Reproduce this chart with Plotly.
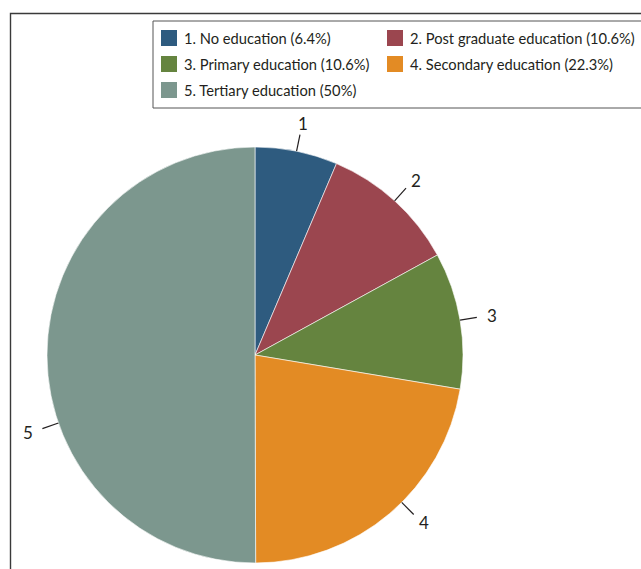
import math
import plotly.graph_objects as go

# ---- data ----
categories = ["1. No education", "2. Post graduate education", "3. Primary education",
              "4. Secondary education", "5. Tertiary education"]
short_labels = ["1", "2", "3", "4", "5"]
percent_text = ["6.4%", "10.6%", "10.6%", "22.3%", "50%"]
values = [6.4, 10.6, 10.6, 22.3, 50.0]
colors = ["#2E5B7F", "#9B464F", "#65843F", "#E38B24", "#7C978E"]

# ---- layout constants (pixels) ----
W, H = 641, 569
CX, CY, R = 255, 355, 208
label_angle_nudge = [0, 0, 0, -4.5, -19]   # best-fit label placement
FONT = "Lato"
TXT = "#231F20"


def px(x):
    return x / W


def py(y):
    return 1 - y / H


fig = go.Figure()
fig.add_trace(go.Pie(
    labels=categories,
    values=values,
    sort=False,
    direction="clockwise",
    rotation=0,
    textinfo="none",
    hoverinfo="label+percent",
    marker=dict(colors=colors, line=dict(color="white", width=0.6)),
    domain=dict(x=[px(CX - R), px(CX + R)], y=[py(CY + R), py(CY - R)]),
    showlegend=False,
))

shapes = []
annotations = []

# outer frame
shapes.append(dict(type="rect", xref="paper", yref="paper",
                   x0=px(10.5), x1=px(W + 20), y0=py(H + 20), y1=py(13.5),
                   line=dict(color="#3A3A3A", width=1.4), fillcolor="rgba(0,0,0,0)"))

# leader lines and slice numbers
total = sum(values)
cum = 0.0
for i, v in enumerate(values):
    mid = (cum + v / 2) / total * 360 + label_angle_nudge[i]
    cum += v
    t = math.radians(mid)
    sx, sy = math.sin(t), -math.cos(t)
    x0, y0 = CX + R * sx, CY + R * sy
    x1, y1 = CX + (R + 17) * sx, CY + (R + 17) * sy
    xt = CX + (R + 28) * sx + 4 * sx
    yt = CY + (R + 28) * sy
    shapes.append(dict(type="line", xref="paper", yref="paper",
                       x0=px(x0), y0=py(y0), x1=px(x1), y1=py(y1),
                       line=dict(color=TXT, width=1.2)))
    annotations.append(dict(xref="paper", yref="paper", x=px(xt), y=py(yt),
                            text=short_labels[i], showarrow=False,
                            xanchor="center", yanchor="middle",
                            font=dict(family=FONT, size=17, color=TXT)))

# legend (manual, 2 columns)
shapes.append(dict(type="rect", xref="paper", yref="paper",
                   x0=px(153), x1=px(W + 30), y0=py(108), y1=py(21),
                   line=dict(color="#555555", width=1), fillcolor="white", layer="below"))
for i, (cat, pct) in enumerate(zip(categories, percent_text)):
    col, row = i % 2, i // 2
    sx0 = 161 + col * 226
    yc = 38 + row * 26
    shapes.append(dict(type="rect", xref="paper", yref="paper",
                       x0=px(sx0), x1=px(sx0 + 16), y0=py(yc + 8), y1=py(yc - 8),
                       line=dict(width=0), fillcolor=colors[i]))
    annotations.append(dict(xref="paper", yref="paper", x=px(sx0 + 21), y=py(yc),
                            text=f"{cat} ({pct})", showarrow=False,
                            xanchor="left", yanchor="middle",
                            font=dict(family=FONT, size=14.7, color=TXT)))

fig.update_layout(
    width=W, height=H,
    margin=dict(l=0, r=0, t=0, b=0),
    paper_bgcolor="white",
    plot_bgcolor="white",
    shapes=shapes,
    annotations=annotations,
    font=dict(family=FONT),
)

fig.write_html("out.html")
